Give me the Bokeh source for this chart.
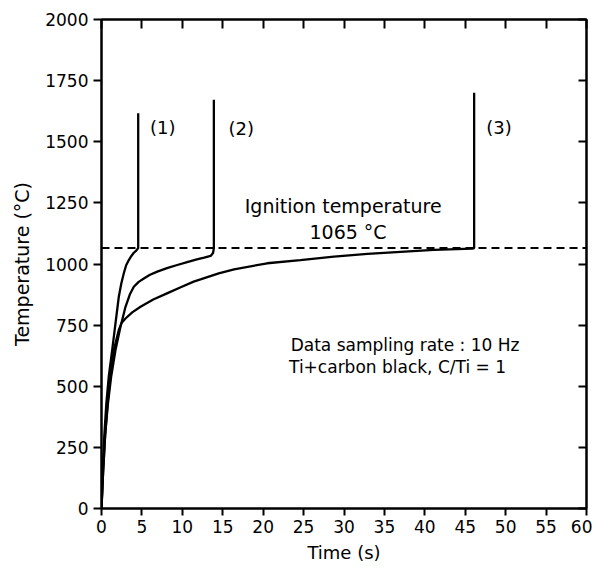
from bokeh.plotting import figure
from bokeh.models import LinearAxis, FixedTicker, Range1d
from bokeh.embed import file_html
from bokeh.resources import INLINE
from bokeh.core.properties import value

# ---- data ----
ignition_temp = 1065

t1 = [0, 0.15, 0.35, 0.6, 0.9, 1.32, 1.73, 2.14, 2.45, 2.76, 3.05, 3.38, 3.7, 4.0, 4.3, 4.54, 4.54]
T1 = [0, 150, 300, 430, 540, 648, 757, 866, 920, 962, 995, 1016, 1033, 1046, 1055, 1065, 1617]

t2 = [0, 0.2, 0.45, 0.8, 1.2, 1.73, 2.35, 2.97, 3.5, 4.0, 4.6, 5.24, 6.0, 6.9, 8.1, 9.37, 10.6, 11.8, 12.7, 13.5, 13.8, 13.9, 13.9]
T2 = [0, 150, 300, 430, 540, 648, 743, 825, 875, 907, 927, 941, 956, 969, 983, 996, 1008, 1019, 1026, 1033, 1045, 1065, 1672]

t3 = [0, 0.2, 0.45, 0.75, 1.1, 1.52, 2.14, 2.5, 2.97, 3.8, 4.83, 6.4, 8.1, 9.8, 11.4, 12.25, 14.5, 16.4, 20.5, 24.6, 28.75, 32.9, 37.0, 41.1, 45.9, 46.1, 46.1]
T3 = [0, 150, 300, 430, 540, 648, 730, 760, 777, 802, 825, 855, 880, 905, 928, 937, 962, 978, 1003, 1016, 1030, 1041, 1050, 1058, 1063, 1065, 1700]

x_ticks = list(range(0, 61, 5))
y_ticks = list(range(0, 2001, 250))

run_labels = ["(1)", "(2)", "(3)"]
run_label_t = [6.0, 15.7, 47.6]
run_label_T = [1557, 1553, 1557]

FONT = "DejaVu Sans"

p = figure(width=592, height=565, x_range=Range1d(0, 60), y_range=Range1d(0, 2000),
           output_backend="svg", toolbar_location=None,
           min_border_left=101, min_border_right=6, min_border_top=19, min_border_bottom=57)
p.background_fill_color = "white"
p.border_fill_color = "white"
p.outline_line_color = "black"
p.outline_line_width = 2
p.xgrid.visible = False
p.ygrid.visible = False

for ax in p.xaxis:
    ax.ticker = FixedTicker(ticks=x_ticks)
    ax.axis_label = "Time (s)"
    ax.axis_label_text_font = FONT
    ax.axis_label_text_font_size = "18px"
    ax.axis_label_text_font_style = "normal"
    ax.axis_label_text_color = "black"
    ax.axis_label_standoff = 6
    ax.major_label_text_font = FONT
    ax.major_label_text_font_size = "17px"
    ax.major_label_text_color = "black"
    ax.major_label_standoff = 4
    ax.major_tick_in = 0
    ax.major_tick_out = 7
    ax.major_tick_line_width = 2
    ax.minor_tick_line_color = None
    ax.axis_line_width = 2

for ax in p.yaxis:
    ax.ticker = FixedTicker(ticks=y_ticks)
    ax.axis_label = "Temperature (°C)"
    ax.axis_label_text_font = FONT
    ax.axis_label_text_font_size = "19px"
    ax.axis_label_text_font_style = "normal"
    ax.axis_label_text_color = "black"
    ax.axis_label_standoff = 9
    ax.major_label_text_font = FONT
    ax.major_label_text_font_size = "17px"
    ax.major_label_text_color = "black"
    ax.major_label_standoff = 5
    ax.major_tick_in = 0
    ax.major_tick_out = 8
    ax.major_tick_line_width = 2
    ax.minor_tick_line_color = None
    ax.axis_line_width = 2

top = LinearAxis(ticker=FixedTicker(ticks=x_ticks),
                 major_label_overrides={t: "" for t in x_ticks},
                 major_label_standoff=0, major_tick_in=9, major_tick_out=0,
                 major_tick_line_width=2, minor_tick_line_color=None, axis_line_width=2)
right = LinearAxis(ticker=FixedTicker(ticks=y_ticks),
                   major_label_overrides={t: "" for t in y_ticks},
                   major_label_standoff=0, major_tick_in=8, major_tick_out=0,
                   major_tick_line_width=2, minor_tick_line_color=None, axis_line_width=2)
p.add_layout(top, "above")
p.add_layout(right, "right")

# ignition temperature dashed line
p.line(x=[0, 60], y=[ignition_temp, ignition_temp], line_color="black",
       line_width=2, line_dash="8 5")

for tt, TT in [(t1, T1), (t2, T2), (t3, T3)]:
    p.line(x=tt, y=TT, line_color="black", line_width=2.3)

p.text(x=run_label_t, y=run_label_T, text=run_labels, text_font=value(FONT),
       text_font_size="18px", text_baseline="middle", text_align="left", text_color="black")

p.text(x=[29.9], y=[1238], text=["Ignition temperature"], text_font=value(FONT),
       text_font_size="19px", text_baseline="middle", text_align="center", text_color="black")
p.text(x=[30.5], y=[1132], text=["1065 °C"], text_font=value(FONT),
       text_font_size="19px", text_baseline="middle", text_align="center", text_color="black")
p.text(x=[23.4, 23.2], y=[668, 579], text=["Data sampling rate : 10 Hz", "Ti+carbon black, C/Ti = 1"],
       text_font=value(FONT), text_font_size="17px", text_baseline="middle",
       text_align="left", text_color="black")

open("out.html", "w").write(file_html(p, INLINE))
